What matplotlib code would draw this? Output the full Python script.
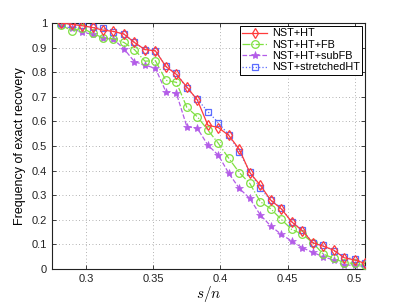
import matplotlib
matplotlib.use('Agg')
import matplotlib.pyplot as plt
import numpy as np

# s/n values: s = 36..65, n = 128
s_vals = np.arange(36, 66)
n = 128

ht = [1.0, 0.995, 0.989, 0.982, 0.971, 0.966, 0.955, 0.921, 0.892, 0.887,
      0.823, 0.791, 0.740, 0.687, 0.585, 0.575, 0.543, 0.487, 0.392, 0.341,
      0.280, 0.245, 0.192, 0.156, 0.107, 0.093, 0.077, 0.046, 0.037, 0.023]
ht_fb = [0.993, 0.968, 0.980, 0.958, 0.940, 0.936, 0.921, 0.892, 0.845, 0.847,
         0.767, 0.759, 0.657, 0.619, 0.565, 0.511, 0.450, 0.392, 0.348, 0.274,
         0.245, 0.202, 0.161, 0.142, 0.107, 0.061, 0.044, 0.026, 0.023, 0.016]
ht_subfb = [0.990, 0.978, 0.962, 0.955, 0.938, 0.934, 0.895, 0.843, 0.829, 0.816,
            0.721, 0.714, 0.579, 0.572, 0.504, 0.463, 0.389, 0.328, 0.287, 0.220,
            0.175, 0.141, 0.114, 0.087, 0.068, 0.050, 0.037, 0.016, 0.016, 0.010]
stretched = [1.0, 0.996, 0.990, 0.982, 0.978, 0.965, 0.955, 0.921, 0.892, 0.887,
             0.825, 0.795, 0.735, 0.690, 0.640, 0.595, 0.545, 0.477, 0.396, 0.328,
             0.280, 0.247, 0.192, 0.159, 0.107, 0.097, 0.075, 0.050, 0.039, 0.023]

labels = ['NST+HT', 'NST+HT+FB', 'NST+HT+subFB', 'NST+stretchedHT']
x_ticks = [0.3, 0.35, 0.4, 0.45, 0.5]
y_ticks = np.round(np.arange(0, 1.01, 0.1), 1)

plt.rcParams['font.family'] = ['Liberation Sans', 'DejaVu Sans']
plt.rcParams['mathtext.fontset'] = 'cm'

x = s_vals / n

fig = plt.figure(figsize=(4.03, 3.03), dpi=100)
ax = fig.add_axes([0.129, 0.112, 0.777, 0.812])

ax.plot(x, ht, '-', color='#ff3b3b', marker='d', mfc='none', ms=5, lw=0.9,
        mew=0.9, label=labels[0], zorder=5)
ax.plot(x, ht_fb, '-.', color='#7fe040', marker='o', mfc='none', ms=5.5, lw=0.9,
        mew=0.9, label=labels[1], zorder=3)
ax.plot(x, ht_subfb, '--', color='#b35ce8', marker='*', mfc='#b35ce8', ms=6, lw=0.9,
        mew=0.5, label=labels[2], zorder=2)
ax.plot(x, stretched, ':', color='#5a6bff', marker='s', mfc='none', ms=5, lw=0.9,
        mew=0.9, label=labels[3], zorder=4)

ax.set_xlim(0.2745, 65 / n)
ax.set_ylim(0, 1)
ax.set_xticks(x_ticks)
ax.set_xticklabels([f'{t:g}' for t in x_ticks])
ax.set_yticks(y_ticks)
ax.set_yticklabels([f'{t:g}' for t in y_ticks])
ax.tick_params(direction='in', length=3, width=0.6, labelsize=8,
               top=True, right=True, colors='#222222')
ax.grid(True, linestyle=(0, (1, 3)), color='#999999', linewidth=0.6)
for sp in ax.spines.values():
    sp.set_linewidth(0.8)
    sp.set_color('#222222')

ax.set_xlabel('$s/n$', fontsize=11, labelpad=0)
ax.set_ylabel('Frequency of exact recovery', fontsize=9, labelpad=4)

leg = ax.legend(loc='upper right', fontsize=7.8, handlelength=2.3,
                borderaxespad=0.25, fancybox=False, framealpha=1,
                edgecolor='black', labelspacing=0.12, borderpad=0.25,
                handletextpad=0.4)
leg.get_frame().set_linewidth(0.7)

fig.savefig('out.png', dpi=100)
